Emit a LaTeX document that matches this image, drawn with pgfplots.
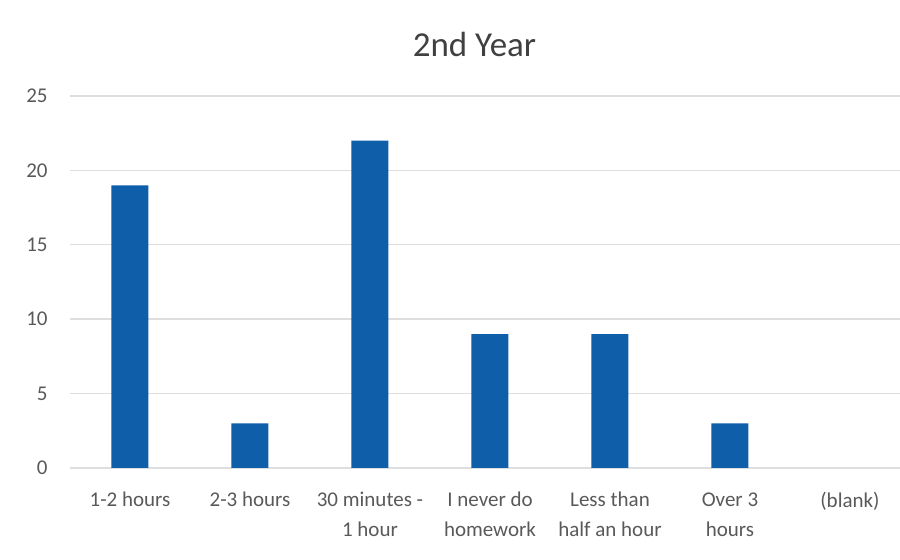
\documentclass[border=0pt]{standalone}
\usepackage{fontspec}
\setmainfont{Carlito}
\usepackage{pgfplots}
\pgfplotsset{compat=1.18}
\definecolor{barblue}{RGB}{14,94,170}
\definecolor{tickgray}{RGB}{89,89,89}
\definecolor{titlegray}{RGB}{64,64,64}
\definecolor{gridgray}{RGB}{222,222,222}
\begin{document}
\begin{tikzpicture}[x=1pt,y=1pt]
\begin{axis}[
  at={(35pt,46pt)}, anchor=south west,
  width=420pt, height=186pt, scale only axis,
  xmin=-0.5, xmax=6.5, ymin=0, ymax=25,
  ytick={0,5,...,25},
  xtick={0,...,6},
  xticklabels={1-2 hours, 2-3 hours, {30 minutes -\\1 hour}, {I never do\\homework}, {Less than\\half an hour}, {Over 3\\hours}, (blank)},
  axis line style={draw=none},
  major tick length=0pt,
  ymajorgrids, grid style={gridgray, line width=0.7pt},
  ticklabel style={font=\fontsize{10.5}{15}\selectfont, text=tickgray},
  xticklabel style={align=center, anchor=north, inner sep=0pt, yshift=-12pt},
  yticklabel style={anchor=east, inner sep=0pt, xshift=-11pt},
  /pgf/number format/assume math mode=true,
  ybar, bar width=18.5pt,
  clip=false,
]
\addplot[fill=barblue, draw=none] coordinates {(0,19)(1,3)(2,22)(3,9)(4,9)(5,3)};
\end{axis}
\node[anchor=base, font=\fontsize{17.5}{20}\selectfont, text=titlegray, inner sep=0pt] at (237.25,251.5) {2nd Year};
\pgfresetboundingbox
\path[use as bounding box] (0,0) rectangle (450,280);
\end{tikzpicture}
\end{document}
